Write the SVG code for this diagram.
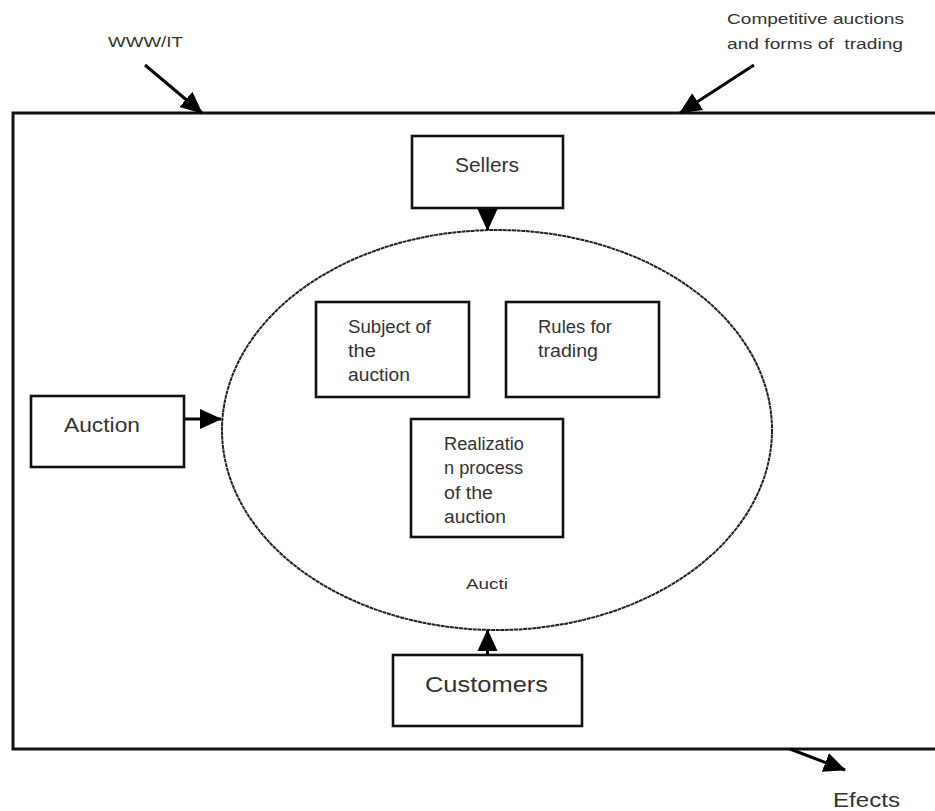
<svg xmlns="http://www.w3.org/2000/svg" width="935" height="811" viewBox="0 0 935 811">
<defs>
<style>
.box{fill:#fff;stroke:#111;stroke-width:2.6}
.t{font-family:"Liberation Sans",Arial,sans-serif;fill:#333}
.big{font-size:21px}
.mid{font-size:17.5px}
.sm{font-size:15.5px}
.conn{stroke:#000;stroke-width:3;fill:none}
</style>
<marker id="ah" markerUnits="userSpaceOnUse" markerWidth="22" markerHeight="22" refX="21" refY="10" orient="auto" viewBox="0 0 22 20">
<path d="M0,0 L22,10 L0,20 z" fill="#000"/>
</marker>
</defs>
<rect width="935" height="811" fill="#fff"/>
<g id="frame">
<rect x="13" y="113" width="940" height="636" fill="none" stroke="#111" stroke-width="3"/>
</g>
<g id="auction-ellipse">
<ellipse cx="497" cy="430" rx="275" ry="200" fill="none" stroke="#222" stroke-width="2" stroke-dasharray="4 0.6"/>
<text class="t sm" x="466" y="589" textLength="42" lengthAdjust="spacingAndGlyphs">Aucti</text>
</g>
<g id="connectors">
<line class="conn" x1="145" y1="65" x2="202" y2="113" marker-end="url(#ah)"/>
<line class="conn" x1="754" y1="65" x2="680" y2="113" marker-end="url(#ah)"/>
<line class="conn" x1="790" y1="749" x2="845" y2="770" marker-end="url(#ah)"/>
<line class="conn" x1="487.5" y1="208" x2="487.5" y2="230" marker-end="url(#ah)"/>
<line class="conn" x1="487.5" y1="655" x2="487.5" y2="630" marker-end="url(#ah)"/>
<line class="conn" x1="184" y1="419" x2="221" y2="419" marker-end="url(#ah)"/>
</g>
<g id="www">
<text class="t sm" x="108" y="47" textLength="75" lengthAdjust="spacingAndGlyphs">WWW/IT</text>
</g>
<g id="competitive">
<text class="t sm" x="727" y="24" textLength="177" lengthAdjust="spacingAndGlyphs">Competitive auctions</text>
<text class="t sm" x="727" y="49" textLength="176" lengthAdjust="spacingAndGlyphs">and forms of&#160; trading</text>
</g>
<g id="sellers">
<rect class="box" x="412" y="136" width="151" height="72"/>
<text class="t big" x="455" y="172" textLength="64" lengthAdjust="spacingAndGlyphs">Sellers</text>
</g>
<g id="auction">
<rect class="box" x="31" y="396" width="153" height="71"/>
<text class="t big" x="64" y="432" textLength="76" lengthAdjust="spacingAndGlyphs">Auction</text>
</g>
<g id="subject">
<rect class="box" x="316" y="302" width="153" height="95"/>
<text class="t mid" x="348" y="333" textLength="83" lengthAdjust="spacingAndGlyphs">Subject of</text>
<text class="t mid" x="348" y="357" textLength="28" lengthAdjust="spacingAndGlyphs">the</text>
<text class="t mid" x="348" y="381" textLength="62" lengthAdjust="spacingAndGlyphs">auction</text>
</g>
<g id="rules">
<rect class="box" x="506" y="302" width="153" height="95"/>
<text class="t mid" x="538" y="333" textLength="74" lengthAdjust="spacingAndGlyphs">Rules for</text>
<text class="t mid" x="538" y="357" textLength="60" lengthAdjust="spacingAndGlyphs">trading</text>
</g>
<g id="realization">
<rect class="box" x="411" y="419" width="152" height="118"/>
<text class="t mid" x="444" y="450" textLength="80" lengthAdjust="spacingAndGlyphs">Realizatio</text>
<text class="t mid" x="444" y="474" textLength="79" lengthAdjust="spacingAndGlyphs">n process</text>
<text class="t mid" x="444" y="499" textLength="49" lengthAdjust="spacingAndGlyphs">of the</text>
<text class="t mid" x="444" y="523" textLength="62" lengthAdjust="spacingAndGlyphs">auction</text>
</g>
<g id="customers">
<rect class="box" x="393" y="655" width="189" height="71"/>
<text class="t big" x="425" y="692" textLength="123" lengthAdjust="spacingAndGlyphs" style="font-size:22px">Customers</text>
</g>
<g id="efects">
<text class="t big" x="833" y="807" textLength="67" lengthAdjust="spacingAndGlyphs">Efects</text>
</g>
</svg>
